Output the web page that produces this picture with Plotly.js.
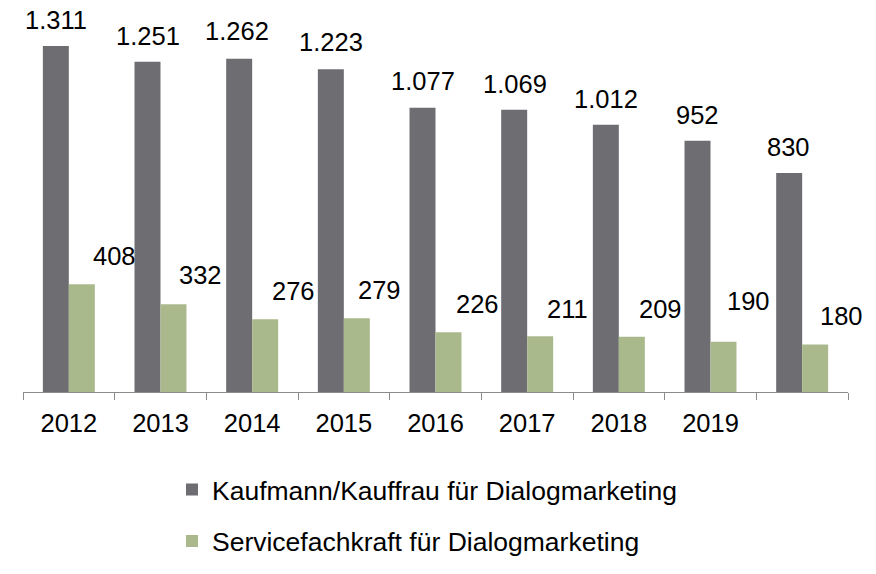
<!DOCTYPE html>
<html>
<head>
<meta charset="utf-8">
<script src="https://cdn.plot.ly/plotly-3.0.1.min.js"></script>
<style>html,body{margin:0;padding:0;background:#fff}</style>
</head>
<body>
<div id="chart" style="width:876px;height:574px"></div>
<script>
// ---- data ----
const categories = ['2012','2013','2014','2015','2016','2017','2018','2019','ohne Angabe'];
const tickLabels = ['2012','2013','2014','2015','2016','2017','2018','2019',''];
const seriesNames = ['Kaufmann/Kauffrau für Dialogmarketing','Servicefachkraft für Dialogmarketing'];
const kaufmann = [1311,1251,1262,1223,1077,1069,1012,952,830];
const service  = [408,332,276,279,226,211,209,190,180];
const kaufmannLabels = ['1.311','1.251','1.262','1.223','1.077','1.069','1.012','952','830'];
const serviceLabels  = ['408','332','276','279','226','211','209','190','180'];
// label offsets (px) relative to the bar top centre
const kaufmannDx = [0,0,-2,0,0,1,0,0,-1];
const kaufmannDy = [26,26,28,27,27,26,26,26,26];
const serviceDx  = [33,27,28,23,29,27,29,25,26];
const serviceDy  = [28,29,28,28,28,27,28,41,28];

// ---- layout geometry ----
const W = 876, H = 574;
const m = {l:23, r:28, t:10, b:181};
const bargap = 0.433;
const plotW = W - m.l - m.r;
const halfBar = (plotW / categories.length) * (1 - bargap) / 4;

const colors = ['#6e6d72', '#a9b98b'];
const font = 'Liberation Sans, Arial, sans-serif';
const fs = 25.5;

const traces = [
  {type:'bar', name:seriesNames[0], x:categories, y:kaufmann, marker:{color:colors[0]}, legendgroup:'a', hoverinfo:'none'},
  {type:'bar', name:seriesNames[1], x:categories, y:service,  marker:{color:colors[1]}, legendgroup:'b', hoverinfo:'none'}
];

const annotations = [];
categories.forEach((c, i) => {
  annotations.push({xref:'x', yref:'y', x:i, y:kaufmann[i], text:kaufmannLabels[i], showarrow:false,
    xanchor:'center', yanchor:'middle', xshift:-halfBar + kaufmannDx[i], yshift:kaufmannDy[i],
    font:{family:font, size:fs, color:'#000'}});
  annotations.push({xref:'x', yref:'y', x:i, y:service[i], text:serviceLabels[i], showarrow:false,
    xanchor:'center', yanchor:'middle', xshift:halfBar + serviceDx[i], yshift:serviceDy[i],
    font:{family:font, size:fs, color:'#000'}});
});

const layout = {
  width:W, height:H,
  margin:m,
  paper_bgcolor:'#fff', plot_bgcolor:'#fff',
  font:{family:font, size:fs, color:'#000'},
  barmode:'group', bargap:bargap, bargroupgap:0,
  showlegend:true,
  legend:{orientation:'v', x:0.1806, xanchor:'left', y:-0.19, yanchor:'top',
    font:{family:font, size:26.5, color:'#000'}, tracegroupgap:14, traceorder:'grouped', bgcolor:'rgba(0,0,0,0)'},
  xaxis:{type:'category', range:[-0.5, categories.length - 0.5], tickmode:'array', tickvals:categories, ticktext:tickLabels,
    showline:true, linecolor:'#8c8c8c', linewidth:1,
    ticks:'outside', tickson:'boundaries', ticklen:7, tickcolor:'#8c8c8c', tickwidth:1, showgrid:false, zeroline:false,
    ticklabelstandoff:8,
    tickfont:{family:font, size:fs, color:'#000'}, fixedrange:true},
  yaxis:{range:[0,1447], visible:false, showgrid:false, zeroline:false, fixedrange:true},
  annotations:annotations
};

Plotly.newPlot('chart', traces, layout, {displayModeBar:false, staticPlot:true});
</script>
</body>
</html>
